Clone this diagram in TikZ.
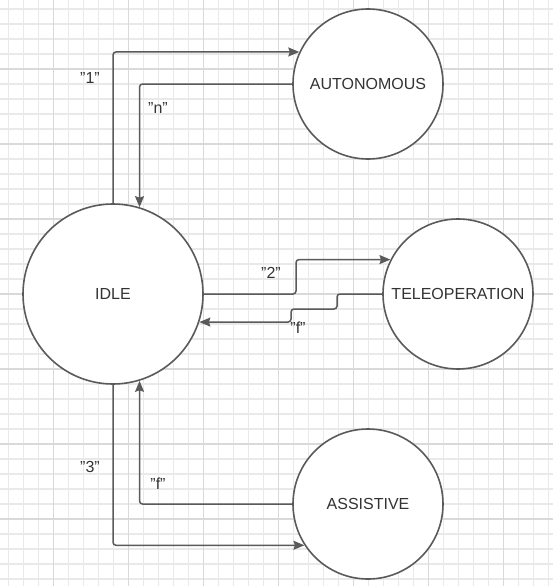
\documentclass[tikz,border=0pt]{standalone}
\usepackage{fontspec}
\setmainfont{Liberation Sans}
\usetikzlibrary{arrows.meta}
\definecolor{gridminor}{HTML}{E9E9E9}
\definecolor{gridmajor}{HTML}{D9D9D9}
\definecolor{edgecol}{HTML}{5A5A5A}
\definecolor{textcol}{HTML}{333333}
\tikzset{
  state/.style={circle, draw=edgecol, line width=1.6pt, fill=white, inner sep=0pt,
    text=textcol, font=\fontsize{16}{19}\selectfont},
  conn/.style={draw=edgecol, line width=1.5pt, rounded corners=3pt,
    -{Stealth[length=11pt,width=9pt,inset=1.5pt]}},
  lbl/.style={text=textcol, font=\fontsize{16}{19}\selectfont, inner sep=0pt}
}
\begin{document}
\begin{tikzpicture}[x=1pt,y=-1pt]
\useasboundingbox (0,0) rectangle (553,586);
\fill[white] (0,0) rectangle (553,586);
% grid
\foreach \i in {0,...,36} {
  \draw[gridminor, line width=1pt] ({8+15*\i},0) -- ({8+15*\i},586);
}
\foreach \i in {0,...,38} {
  \draw[gridminor, line width=1.3pt] (0,{9+15*\i}) -- (553,{9+15*\i});
}
\foreach \i in {0,...,6} {
  \draw[gridmajor, line width=1pt] ({53+75*\i},0) -- ({53+75*\i},586);
  \draw[gridmajor, line width=1.4pt] (0,{69+75*\i}) -- (553,{69+75*\i});
}
% states
\node[state, minimum size=180pt] (idle) at (113,294) {IDLE};
\node[state, minimum size=150pt] (auto) at (368,84) {AUTONOMOUS};
\node[state, minimum size=150pt] (tele) at (458,294) {TELEOPERATION};
\node[state, minimum size=150pt] (assist) at (368,504) {ASSISTIVE};
% helper coordinates
\coordinate (k2) at (296,294);
\coordinate (ja) at (337,309);
\coordinate (jb) at (291,309);
% connectors
\draw[conn] (idle.north) |- (auto.155.6);
\draw[conn] (auto.west) -| (idle.73.2);
\draw[conn] (idle.east) -- (k2) |- (tele.153.6);
\draw[conn] (tele.west) -| (ja) -- (jb) |- (idle.-18.6);
\draw[conn] (idle.south) |- (assist.213.1);
\draw[conn] (assist.west) -| (idle.-73.9);
% labels
\node[lbl] (l1) at (90,78) {"1"};
\node[lbl] (ln) at (158,108) {"n"};
\node[lbl] (l2) at (271,273) {"2"};
\node[lbl] (lf1) at (298,328) {"f"};
\node[lbl] (l3) at (90,467) {"3"};
\node[lbl] (lf2) at (158,484) {"f"};
\end{tikzpicture}
\end{document}
